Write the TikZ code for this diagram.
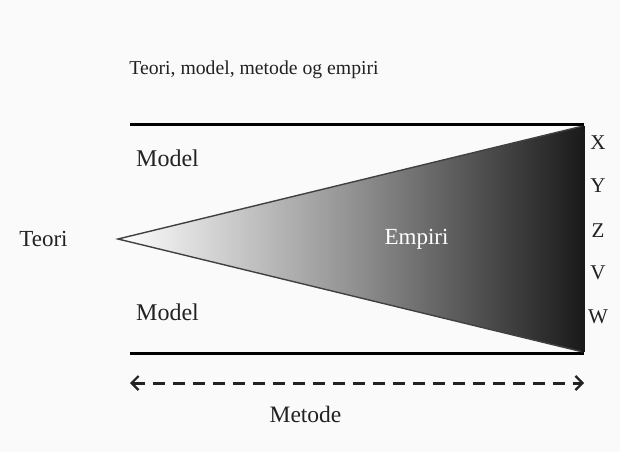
\documentclass[tikz,border=0pt]{standalone}
\usepackage{fontspec}
\setmainfont{Liberation Serif}
\usetikzlibrary{arrows.meta}
\definecolor{ink}{HTML}{222222}
\definecolor{paper}{HTML}{FAFAFA}
\definecolor{deep}{HTML}{1A1A1A}
\tikzset{
  lbl/.style={text=ink, inner sep=0pt, font=\fontsize{23}{26}\selectfont},
  rule/.style={line width=3pt, draw=black},
  gap/.style={line width=3pt, draw=ink, dash pattern=on 12pt off 8pt,
    {Straight Barb[length=7pt,width=14pt,line width=2.2pt]}-{Straight Barb[length=7pt,width=14pt,line width=2.2pt]}}
}
\begin{document}
\begin{tikzpicture}[x=1pt,y=-1pt]
  \fill[paper] (0,0) rectangle (620,452);
  \useasboundingbox (0,0) rectangle (620,452);

  % frame lines above and below the wedge
  \coordinate (tl) at (130,124);
  \coordinate (tr) at (584,124);
  \coordinate (bl) at (130,353);
  \coordinate (br) at (584,353);
  \draw[rule] (tl) -- (tr);
  \draw[rule] (bl) -- (br);

  % the wedge, shaded from light to dark
  \coordinate (apex) at (118,239);
  \coordinate (wt) at (583,126);
  \coordinate (wb) at (583,352);
  \begin{scope}
    \clip (apex) -- (wt) -- (wb) -- cycle;
    \shade[left color=white, right color=deep, middle color=gray!85!white]
      (118,120) rectangle (583,360);
  \end{scope}
  \draw[line width=1.4pt, draw=black!75, line join=miter] (wb) -- (apex) -- (wt);
  \draw[line width=4pt, draw=deep] (wt) -- (wb);

  % labels
  \node[lbl, font=\fontsize{19.7}{22}\selectfont] (title) at (254,70) {Teori, model, metode og empiri};
  \node[lbl] (teori) at (43.5,239) {Teori};
  \node[lbl, font=\fontsize{24}{26}\selectfont] (m1) at (167.5,158) {Model};
  \node[lbl, font=\fontsize{24}{26}\selectfont] (m2) at (167.5,312) {Model};
  \node[lbl, text=white] (emp) at (416.5,239) {Empiri};
  \node[lbl, font=\fontsize{21}{24}\selectfont] (x) at (598,143) {X};
  \node[lbl, font=\fontsize{21}{24}\selectfont] (y) at (598,186) {Y};
  \node[lbl, font=\fontsize{21}{24}\selectfont] (z) at (598,231) {Z};
  \node[lbl, font=\fontsize{21}{24}\selectfont] (v) at (598,273) {V};
  \node[lbl, font=\fontsize{21}{24}\selectfont] (w) at (598,317) {W};

  % method arrow across the width
  \coordinate (al) at (130,383);
  \coordinate (ar) at (584,383);
  \draw[gap] (al) -- (ar);
  \node[lbl, font=\fontsize{23.5}{26}\selectfont] (met) at (305.5,414) {Metode};
\end{tikzpicture}
\end{document}
